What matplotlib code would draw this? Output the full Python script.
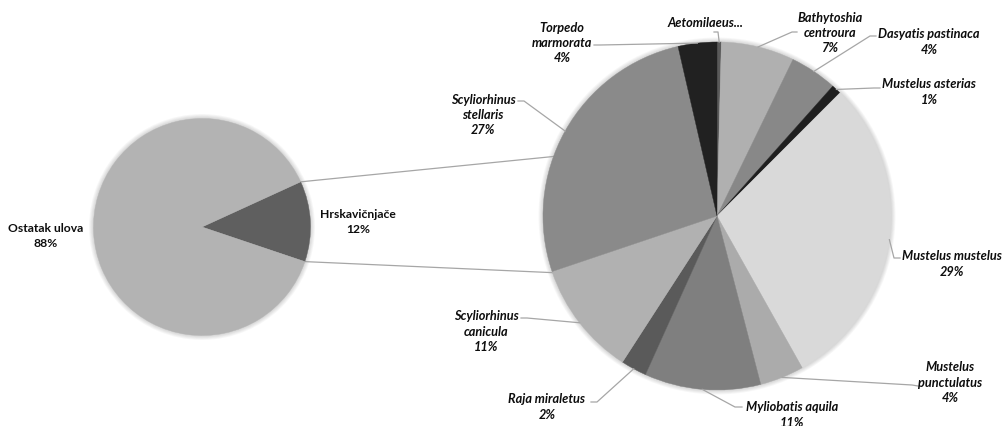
import numpy as np
import matplotlib
matplotlib.use('Agg')
import matplotlib.pyplot as plt
from matplotlib.patches import Circle

plt.rcParams['font.family'] = ['Lato', 'DejaVu Sans']

# lijevi krug - ukupni ulov (%)
mainNames = ['Hrskavičnjače', 'Ostatak ulova']
mainVals = [12, 88]
mainColors = ['#5f5f5f', '#b3b3b3']

# desni krug - vrste hrskavičnjača (%)
subNames = ['Aetomilaeus...', 'Bathytoshia\ncentroura', 'Dasyatis pastinaca',
            'Mustelus asterias', 'Mustelus mustelus', 'Mustelus\npunctulatus',
            'Myliobatis aquila', 'Raja miraletus', 'Scyliorhinus\ncanicula',
            'Scyliorhinus\nstellaris', 'Torpedo\nmarmorata']
subVals = [0.4, 6.8, 4.4, 0.9, 29.4, 4.1, 10.8, 2.4, 10.7, 26.6, 3.6]
subColors = ['#5a5a5a', '#b0b0b0', '#888888', '#1f1f1f', '#d9d9d9', '#ababab',
             '#7f7f7f', '#5a5a5a', '#b1b1b1', '#8a8a8a', '#212121']
showPct = [False, True, True, True, True, True, True, True, True, True, True]

# raspored (pikseli, y prema dolje)
c1 = (202, 228); r1 = 108.5
c2 = (717, 217); r2 = 174
mainTextPos = [(358, 222), (46, 236)]
subTextPos = [(705, 23), (830, 33), (929, 42), (929, 92), (952, 264), (950, 383),
              (792, 415), (547, 407), (486, 332), (483, 115), (562, 43)]
# kraj linije kod teksta i lakat
subLeadEnd = [(714, 33), (797, 33), (876, 37), (880, 89), (900, 259), (918, 387),
              (742, 408), (591, 403), (521, 319), (518, 102), (594, 46)]
subLeadElbow = [(718, 33), (792, 33), (870, 37), (874, 89), (894, 259), (912, 386),
                (735, 408), (597, 403), (527, 319), (524, 102), (600, 46)]
connAngles = [200, 161]  # gdje spojne linije dodiruju desni krug

fig = plt.figure(figsize=(10.04, 4.27), dpi=100)
ax = fig.add_axes([0, 0, 1, 1])

# blaga sjena oko krugova
for c, r in [(c1, r1), (c2, r2)]:
    for k in range(1, 6):
        ax.add_patch(Circle(c, r + k * 0.9, color='k', alpha=0.03, lw=0, zorder=0))

start1 = -mainVals[0] / float(sum(mainVals)) * 180 - 3
w1, _ = ax.pie(mainVals, colors=mainColors, center=c1, radius=r1,
               startangle=start1, counterclock=True, wedgeprops=dict(linewidth=0.3))
w2, _ = ax.pie(subVals, colors=subColors, center=c2, radius=r2,
               startangle=-90, counterclock=True, wedgeprops=dict(linewidth=0.3))
for w in list(w1) + list(w2):
    w.set_edgecolor(w.get_facecolor())

ax.set_xlim(0, 1004)
ax.set_ylim(427, 0)
ax.set_aspect('equal')
ax.axis('off')

lineCol = '#a6a6a6'

# spojne linije izmedu krugova
for th1, th2 in zip([w1[0].theta1, w1[0].theta2], connAngles):
    p1 = (c1[0] + r1 * np.cos(np.radians(th1)), c1[1] + r1 * np.sin(np.radians(th1)))
    p2 = (c2[0] + r2 * np.cos(np.radians(th2)), c2[1] + r2 * np.sin(np.radians(th2)))
    ax.plot([p1[0], p2[0]], [p1[1], p2[1]], color=lineCol, lw=0.9, zorder=0.5)

# oznake lijevog kruga
for i in range(len(mainVals)):
    s = '%s\n%d%%' % (mainNames[i], round(mainVals[i] * 100.0 / sum(mainVals)))
    ax.text(mainTextPos[i][0], mainTextPos[i][1], s, ha='center', va='center',
            fontsize=8.7, fontweight='bold', color='#0d0d0d', linespacing=1.35)

# oznake desnog kruga s linijama
tot = sum(subVals)
for i, w in enumerate(w2):
    mid = np.radians((w.theta1 + w.theta2) / 2.0)
    anchor = (c2[0] + r2 * np.cos(mid), c2[1] + r2 * np.sin(mid))
    xs = [subLeadEnd[i][0], subLeadElbow[i][0], anchor[0]]
    ys = [subLeadEnd[i][1], subLeadElbow[i][1], anchor[1]]
    ax.plot(xs, ys, color=lineCol, lw=0.9, zorder=3)
    s = subNames[i]
    if showPct[i]:
        s += '\n%d%%' % round(subVals[i] * 100.0 / tot)
    ax.text(subTextPos[i][0], subTextPos[i][1], s, ha='center', va='center',
            fontsize=9.2, fontweight='bold', fontstyle='italic', color='#0d0d0d',
            linespacing=1.35)

fig.savefig('out.png', dpi=100)
